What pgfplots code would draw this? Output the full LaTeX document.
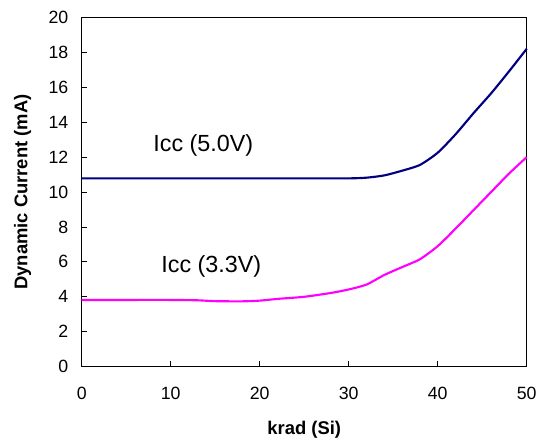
\documentclass[border=0pt]{standalone}
\usepackage{fontspec}
\setmainfont{Liberation Sans}
\usepackage{pgfplots}
\pgfplotsset{compat=1.18}
\definecolor{icchi}{HTML}{000080}
\definecolor{icclo}{HTML}{FF00FF}

\begin{document}
\begin{tikzpicture}
\begin{axis}[
  scale only axis, width=333.75pt, height=262pt,
  xmin=0, xmax=50, ymin=0, ymax=20,
  xtick={0,10,...,50}, ytick={0,2,...,20},
  tick align=inside, major tick length=4.3pt,
  xtick pos=bottom, ytick pos=left,
  axis line style={line width=0.8pt},
  tick style={line width=0.6pt, black},
  /pgf/number format/assume math mode=true,
  tick label style={font=\fontsize{13.3}{15}\selectfont},
  xticklabel style={yshift=-11.5pt},
  yticklabel style={xshift=-6.5pt},
  xlabel={\textbf{krad (Si)}}, ylabel={\textbf{Dynamic Current (mA)}},
  label style={font=\fontsize{13.8}{16}\selectfont},
  xlabel style={at={(axis description cs:0.5,-0.181)}, anchor=center},
  ylabel style={at={(axis description cs:-0.133,0.5)}, anchor=center},
  clip=false]
\addplot[color=icchi, line width=1.6pt, smooth, tension=0.4] coordinates {
  (0,10.78)(5,10.78)(10,10.78)(15,10.78)(20,10.78)(25,10.78)(30,10.78)
  (32,10.82)(34,10.95)(36,11.22)(38,11.55)(40,12.25)(42,13.3)(44,14.5)
  (46,15.65)(48,16.9)(50,18.2)};
\addplot[color=icclo, line width=1.6pt, smooth, tension=0.4] coordinates {
  (0,3.82)(5,3.82)(10,3.82)(13,3.8)(15,3.75)(18,3.74)(20,3.78)(22,3.88)
  (25,4.0)(28,4.22)(30,4.42)(32,4.7)(34,5.25)(36,5.7)(38,6.15)(40,6.9)
  (42,7.9)(44,8.95)(46,10.0)(48,11.05)(50,12.0)};
\node[font=\fontsize{17.5}{20}\selectfont] at (axis cs:13.66,12.69) {Icc (5.0V)};
\node[font=\fontsize{17.5}{20}\selectfont] at (axis cs:14.56,5.76) {Icc (3.3V)};
\end{axis}
\path (current axis.south west) ++(-61.3pt,-55.7pt) coordinate (bbA);
\path (current axis.north east) ++(13.7pt,13pt) coordinate (bbB);
\path (bbA) rectangle (bbB);
\end{tikzpicture}
\end{document}
